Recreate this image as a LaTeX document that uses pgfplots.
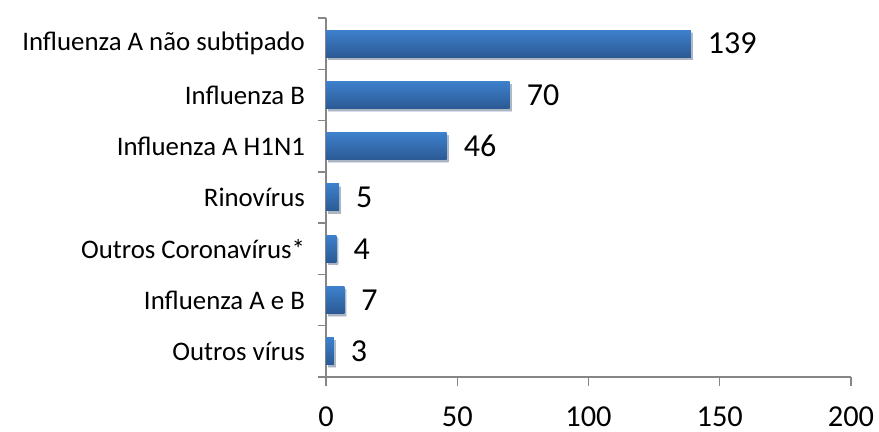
\documentclass[border=0pt]{standalone}
\usepackage{fontspec}
\setmainfont{Carlito}
\usepackage{pgfplots}
\pgfplotsset{compat=1.18}
\usetikzlibrary{shadows}
\definecolor{axisgray}{HTML}{868686}
\definecolor{bartop}{HTML}{3E80CC}
\definecolor{barbot}{HTML}{2B5A94}
\begin{document}
\begin{tikzpicture}
\useasboundingbox (0,0) rectangle (439.5pt,216pt);
\begin{axis}[
  at={(163pt,27.5pt)}, anchor=south west,
  scale only axis, width=262.5pt, height=179.5pt,
  xbar, bar width=13.5pt, bar shift=0pt,
  xmin=0, xmax=200, xtick={0,50,...,200},
  ymin=-0.5, ymax=6.5,
  ytick={0,...,6},
  yticklabels={Outros vírus, Influenza A e B, Outros Coronavírus*, Rinovírus, Influenza A H1N1, Influenza B, Influenza A não subtipado},
  minor ytick={-0.5,0.5,...,6.5},
  major y tick style={draw=none},
  minor y tick style={draw=axisgray},
  major tick length=4.5pt, minor tick length=4pt,
  tick align=outside,
  axis x line*=bottom, axis y line*=left,
  axis line style={axisgray, line width=0.7pt},
  tick style={axisgray, line width=0.7pt},
  /pgf/number format/assume math mode=true,
  xticklabel style={font=\fontsize{15.2}{15.2}\selectfont, inner sep=0pt, yshift=-10pt},
  yticklabel style={font=\fontsize{13.4}{13.4}\selectfont, xshift=-2.5pt},
  nodes near coords,
  nodes near coords style={font=\fontsize{16}{16}\selectfont, anchor=west, xshift=5pt, text=black},
  barstyle/.style={draw=none, top color=bartop, bottom color=barbot,
    drop shadow={shadow xshift=1pt, shadow yshift=-1.3pt, opacity=0.2, fill=black}},
]
\addplot[barstyle] coordinates {(3,0)};
\addplot[barstyle] coordinates {(7,1)};
\addplot[barstyle] coordinates {(4,2)};
\addplot[barstyle] coordinates {(5,3)};
\addplot[barstyle] coordinates {(46,4)};
\addplot[barstyle] coordinates {(70,5)};
\addplot[barstyle] coordinates {(139,6)};
\end{axis}
\end{tikzpicture}
\end{document}
